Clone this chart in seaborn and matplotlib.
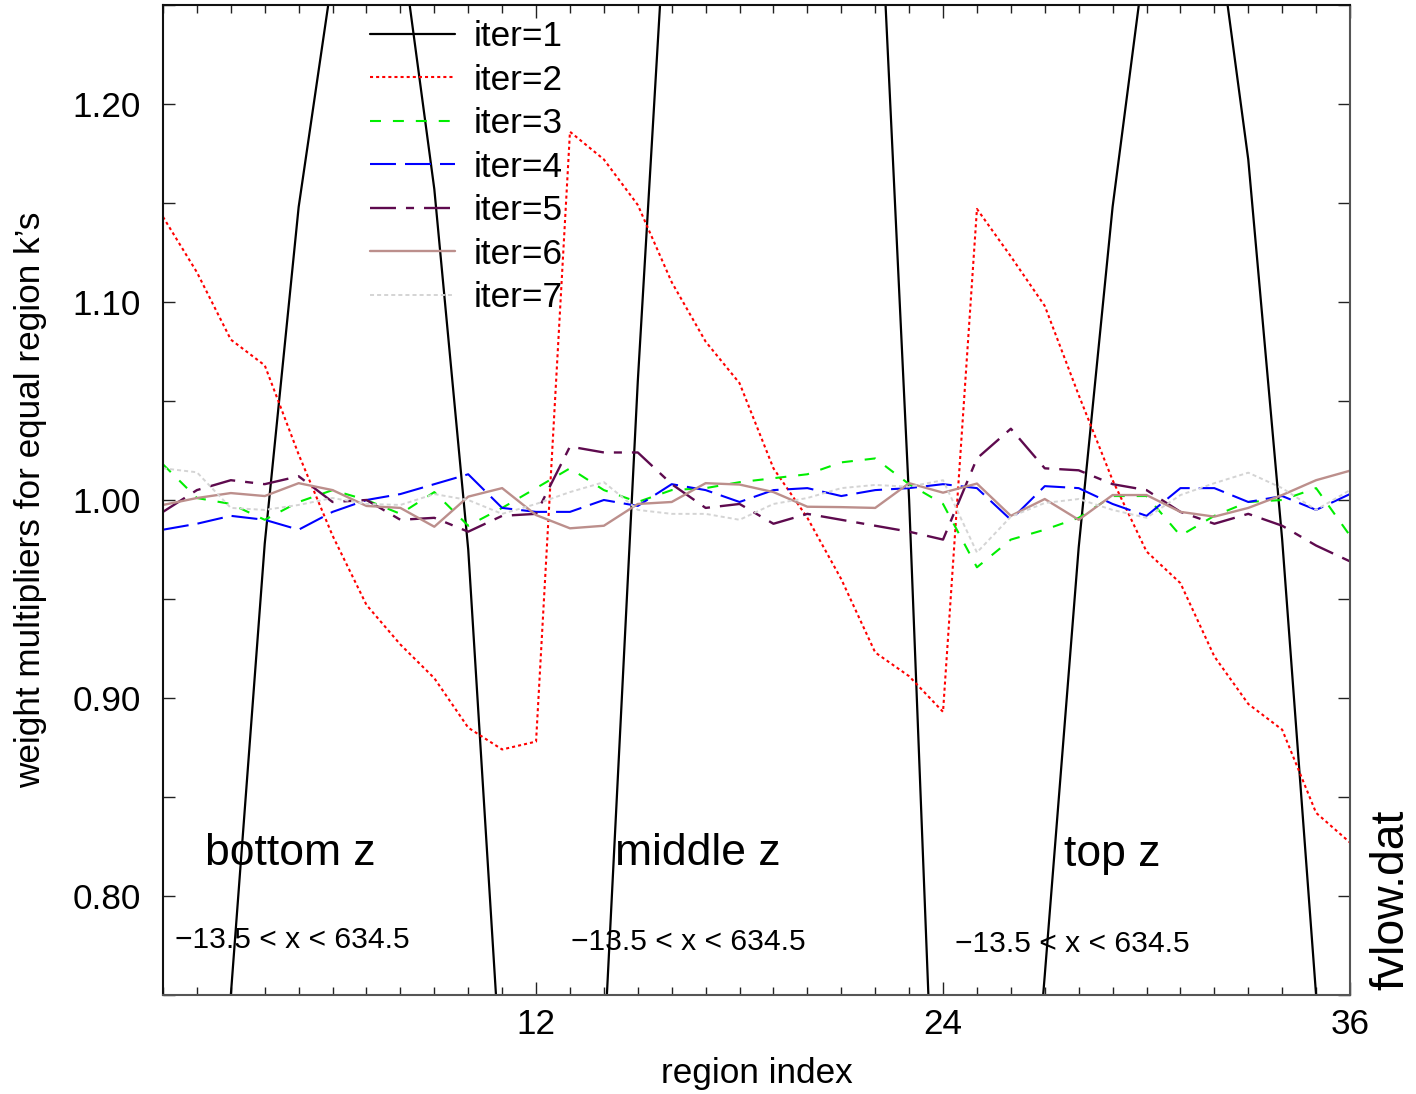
import numpy as np
import pandas as pd
import matplotlib
matplotlib.use("Agg")
import matplotlib.pyplot as plt
import seaborn as sns
from matplotlib.ticker import FixedLocator, MultipleLocator, FormatStrFormatter

# ---------------- data ----------------
region = list(range(1, 37))
iter1 = [0.35, 0.55, 0.75, 0.978, 1.148, 1.265, 1.34, 1.285, 1.157, 0.975, 0.70, 0.45,
         0.40, 0.72, 1.06, 1.35, 1.55, 1.65, 1.65, 1.60, 1.50, 1.36, 1.00, 0.56,
         0.35, 0.55, 0.76, 0.976, 1.148, 1.28, 1.34, 1.30, 1.172, 0.98, 0.75, 0.50]
iter2 = [1.143, 1.115, 1.081, 1.068, 1.023, 0.982, 0.947, 0.927, 0.910, 0.885, 0.874, 0.878,
         1.186, 1.172, 1.149, 1.110, 1.080, 1.059, 1.016, 0.991, 0.960, 0.923, 0.911, 0.893,
         1.147, 1.123, 1.098, 1.053, 1.010, 0.974, 0.958, 0.921, 0.897, 0.884, 0.842, 0.827]
iter3 = [1.018, 1.001, 0.998, 0.990, 0.999, 1.005, 1.000, 0.993, 1.004, 0.987, 0.996, 1.006,
         1.016, 1.005, 0.999, 1.005, 1.006, 1.009, 1.011, 1.013, 1.019, 1.021, 1.008, 0.998,
         0.966, 0.980, 0.985, 0.991, 1.002, 1.002, 0.982, 0.992, 0.999, 1.000, 1.006, 0.982]
iter4 = [0.985, 0.988, 0.992, 0.990, 0.985, 0.994, 1.000, 1.003, 1.008, 1.013, 0.996, 0.994,
         0.994, 1.000, 0.997, 1.008, 1.005, 0.999, 1.005, 1.006, 1.002, 1.005, 1.006, 1.008,
         1.006, 0.990, 1.007, 1.006, 0.998, 0.992, 1.006, 1.006, 0.999, 1.002, 0.995, 1.003]
iter5 = [0.994, 1.005, 1.010, 1.008, 1.012, 0.999, 1.000, 0.990, 0.991, 0.984, 0.992, 0.993,
         1.027, 1.024, 1.024, 1.008, 0.996, 0.998, 0.988, 0.993, 0.990, 0.987, 0.984, 0.980,
         1.021, 1.036, 1.016, 1.015, 1.008, 1.005, 0.994, 0.988, 0.993, 0.987, 0.977, 0.969]
iter6 = [0.9975, 1.001, 1.0035, 1.002, 1.0085, 1.005, 0.997, 0.996, 0.9865, 1.0017, 1.006, 0.9924,
         0.9857, 0.987, 0.998, 0.999, 1.0085, 1.0078, 1.004, 0.9966, 0.9964, 0.996, 1.0085, 1.0037,
         1.0083, 0.992, 1.0005, 0.990, 1.0025, 1.0025, 0.994, 0.9916, 0.996, 1.0025, 1.010, 1.0148]
iter7 = [1.016, 1.014, 0.996, 0.995, 0.9975, 1.001, 0.998, 0.9975, 1.003, 1.000, 0.993, 0.998,
         1.004, 1.009, 0.995, 0.993, 0.993, 0.990, 0.998, 1.001, 1.006, 1.0076, 1.0067, 1.010,
         0.9735, 0.9916, 0.9985, 1.0005, 0.995, 0.991, 1.0025, 1.0085, 1.0138, 1.006, 0.995, 1.005]

series_labels = ["iter=1", "iter=2", "iter=3", "iter=4", "iter=5", "iter=6", "iter=7"]
series_values = [iter1, iter2, iter3, iter4, iter5, iter6, iter7]
y_ticks = [0.80, 0.90, 1.00, 1.10, 1.20]
x_ticks = [12, 24, 36]
zone_labels = ["bottom z", "middle z", "top z"]
range_label = "\u221213.5 < x < 634.5"

# ---------------- styles ----------------
colors = ["#000000", "#ff0000", "#00ee00", "#0000ff", "#5e0a4e", "#bc8f8c", "#d4d4d4"]
styles = ["-", (0, (2.2, 2.2)), (0, (7.9, 8.6)), (0, (18.7, 6.5)),
          (0, (18.7, 7.2, 5.8, 7.2)), "-", (0, (2.9, 2.2))]
widths = [1.6, 1.5, 1.5, 1.5, 1.7, 1.7, 1.4]

sns.set_theme(style="ticks")
plt.rcParams["font.family"] = ["Liberation Sans", "DejaVu Sans"]
plt.rcParams["lines.scale_dashes"] = False
plt.rcParams["axes.unicode_minus"] = True
plt.rcParams["text.color"] = "black"
plt.rcParams["axes.labelcolor"] = "black"
plt.rcParams["xtick.color"] = "black"
plt.rcParams["ytick.color"] = "black"

fig = plt.figure(figsize=(14.16, 10.94), dpi=100)
ax = fig.add_axes([163 / 1416, 1 - 995 / 1094, (1350 - 163) / 1416, (995 - 5) / 1094])

for lab, vals, c, ls, lw in zip(series_labels, series_values, colors, styles, widths):
    df = pd.DataFrame({"region": region, "w": vals})
    sns.lineplot(data=df, x="region", y="w", ax=ax, color=c, linestyle=ls,
                 linewidth=lw, label=lab, estimator=None, sort=False)

ax.set_xlim(1, 36)
ax.set_ylim(0.75, 1.25)

ax.yaxis.set_major_locator(FixedLocator(y_ticks))
ax.yaxis.set_minor_locator(MultipleLocator(0.05))
ax.yaxis.set_major_formatter(FormatStrFormatter("%.2f"))
ax.xaxis.set_major_locator(FixedLocator(x_ticks))
ax.xaxis.set_minor_locator(MultipleLocator(1))

fs = 25.3
ax.tick_params(axis="both", which="both", direction="in", top=True, right=True,
               color="#222222", labelsize=fs, labelcolor="black")
ax.tick_params(axis="y", which="both", length=8.6, width=1.0, pad=16)
ax.tick_params(axis="x", which="major", length=9.5, width=1.0, pad=9)
ax.tick_params(axis="x", which="minor", length=5.8, width=1.0)

for side in ["left", "top"]:
    ax.spines[side].set_color("#111111")
for side in ["right", "bottom"]:
    ax.spines[side].set_color("#555555")
for side in ax.spines:
    ax.spines[side].set_linewidth(1.5)

ax.set_xlabel("region index", fontsize=fs, labelpad=12, color="black")
ax.set_ylabel("weight multipliers for equal region k\u2019s", fontsize=fs, labelpad=18,
              color="black")

# annotations
zone_x = [2.24, 14.33, 27.58]
zone_y = [0.8157, 0.8157, 0.8152]
range_x = [1.35, 13.04, 24.36]
range_y = [0.7737, 0.7727, 0.7717]
for zl, zx, zy in zip(zone_labels, zone_x, zone_y):
    ax.text(zx, zy, zl, fontsize=32, ha="left", va="baseline", color="black")
for rx, ry in zip(range_x, range_y):
    ax.text(rx, ry, range_label, fontsize=21.6, ha="left", va="baseline", color="black")

fig.text(1391 / 1416, 1 - 990 / 1094, "fvlow.dat", rotation=90, fontsize=33.3,
         ha="center", va="bottom", color="black")

leg = ax.legend(loc="upper left", bbox_to_anchor=(370 / 1416, 1 - 20 / 1094),
                bbox_transform=fig.transFigure, frameon=False, borderpad=0,
                borderaxespad=0, handlelength=2.41, handletextpad=0.54,
                labelspacing=0.30, fontsize=fs)
for t in leg.get_texts():
    t.set_color("black")

fig.savefig("out.png", dpi=100)
